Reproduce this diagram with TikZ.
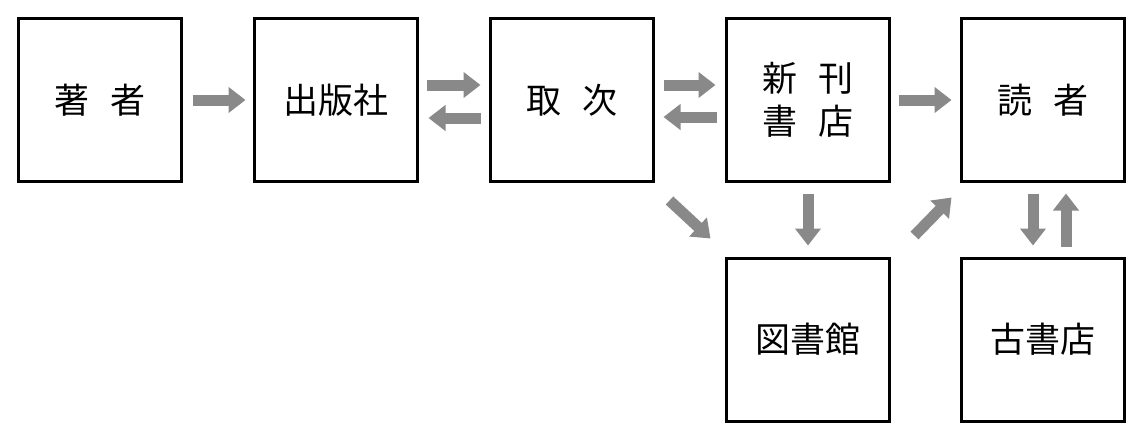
\documentclass[tikz,border=0pt]{standalone}
\usepackage{fontspec}
\newfontfamily\jpfont{Noto Sans CJK JP}
\usetikzlibrary{arrows.meta,calc}
\definecolor{arrgray}{RGB}{137,137,137}
\tikzset{
  box/.style={draw=black,line width=3pt,rectangle,minimum width=163pt,minimum height=163pt,inner sep=0pt,
    font=\jpfont\fontsize{35pt}{43pt}\selectfont,align=center},
  blockarrow/.style={draw=arrgray,line width=11pt,-{Triangle[length=17pt,width=25pt]}},
}
\newcommand{\jgap}{\hspace{0.6em}}
\begin{document}
\begin{tikzpicture}[x=1pt,y=-1pt]
\useasboundingbox[fill=white] (0,0) rectangle (1144,440);
\node[box] (a) at (100,100) {著\jgap 者};
\node[box] (b) at (336,100) {出版社};
\node[box] (c) at (572,100) {取\jgap 次};
\node[box] (d) at (807.5,100) {新\jgap 刊\\書\jgap 店};
\node[box] (e) at (1043,100) {読\jgap 者};
\node[box] (f) at (807.5,339.5) {図書館};
\node[box] (g) at (1043,339.5) {古書店};
% horizontal
\draw[blockarrow] ($(a.east)+(9.5,0)$) -- ($(b.west)+(-7.5,0)$);
\draw[blockarrow] ($(b.east)+(7.5,-15)$) -- ($(c.west)+(-8.5,-15)$);
\draw[blockarrow] ($(c.west)+(-8.5,18)$) -- ($(b.east)+(9.5,18)$);
\draw[blockarrow] ($(c.east)+(8.5,-15)$) -- ($(d.west)+(-9,-15)$);
\draw[blockarrow] ($(d.west)+(-8,17)$) -- ($(c.east)+(8.5,17)$);
\draw[blockarrow] ($(d.east)+(8,0)$) -- ($(e.west)+(-8.5,0)$);
% lower
\draw[blockarrow] ($(c.south east)+(14.5,17.5)$) -- ($(f.north west)+(-14,-18)$);
\draw[blockarrow] ($(d.south)+(0.5,10.5)$) -- ($(f.north)+(0.5,-11)$);
\draw[blockarrow] ($(f.north east)+(24,-21)$) -- ($(e.south west)+(-8.5,14.5)$);
\draw[blockarrow] ($(e.south)+(-10,10.5)$) -- ($(g.north)+(-10,-11)$);
\draw[blockarrow] ($(g.north)+(23,-10)$) -- ($(e.south)+(23,10.5)$);
\end{tikzpicture}
\end{document}
